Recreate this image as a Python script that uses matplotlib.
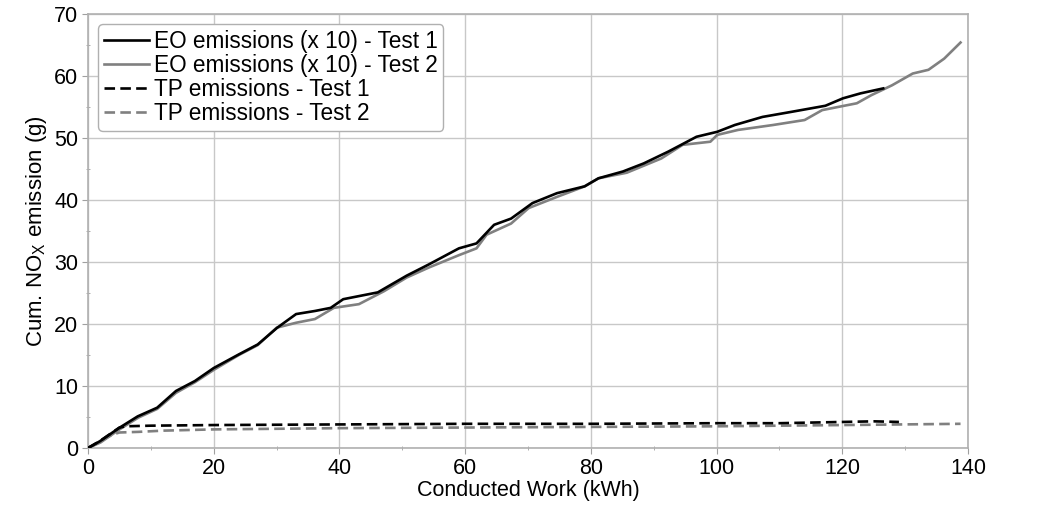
import numpy as np
import matplotlib.pyplot as plt
from matplotlib.ticker import MultipleLocator

plt.rcParams['font.family'] = ['Liberation Sans', 'DejaVu Sans']
plt.rcParams['mathtext.default'] = 'regular'

# EO emissions (x 10), test 1 (black solid)
eo1_x = [0, 1.9, 4.9, 7.9, 11.0, 14.0, 17.0, 20.0, 24.0, 27.0, 30.1, 33.1, 36.1,
         38.6, 40.6, 46.1, 50.7, 54.2, 59.0, 61.8, 64.6, 67.3, 70.7, 74.6, 79.0,
         81.2, 85.1, 88.4, 92.3, 96.8, 100.1, 102.9, 107.3, 111.8, 117.3, 120.1,
         122.9, 126.5]
eo1_y = [0, 1.1, 3.2, 5.1, 6.5, 9.2, 10.8, 12.9, 15.1, 16.7, 19.4, 21.6, 22.1,
         22.6, 24.0, 25.1, 27.8, 29.6, 32.2, 33.0, 36.0, 37.0, 39.5, 41.1, 42.2,
         43.5, 44.6, 45.9, 47.8, 50.2, 51.0, 52.1, 53.4, 54.2, 55.2, 56.4,
         57.2, 58.0]

# EO emissions (x 10), test 2 (grey solid)
eo2_x = [0, 2.0, 5.0, 8.0, 11.0, 14.0, 17.0, 20.0, 24.0, 27.0, 30.0, 33.1, 36.1,
         39.1, 43.1, 47.1, 50.7, 54.2, 59.0, 61.8, 63.4, 67.3, 70.1, 74.6, 79.0,
         81.2, 85.7, 91.2, 94.6, 99.0, 100.1, 103.4, 109.0, 114.0, 116.8, 122.3,
         124.6, 127.9, 131.2, 133.7, 136.2, 138.8]
eo2_y = [0, 0.9, 3.0, 4.9, 6.3, 8.9, 10.6, 12.6, 15.0, 16.6, 19.4, 20.2, 20.8,
         22.6, 23.2, 25.3, 27.5, 29.1, 31.1, 32.2, 34.4, 36.2, 38.7, 40.5, 42.2,
         43.5, 44.4, 46.7, 48.9, 49.4, 50.5, 51.3, 52.1, 52.9, 54.5, 55.6,
         56.9, 58.5, 60.4, 61.0, 62.8, 65.4]

# TP emissions, test 1 (black dashed)
tp1_x = [0, 1, 2, 3, 4, 5, 6, 10, 20, 40, 60, 80, 100, 110, 120, 125, 129]
tp1_y = [0, 0.6, 1.2, 1.9, 2.6, 3.3, 3.5, 3.6, 3.7, 3.8, 3.9, 3.9, 4.0, 4.0, 4.2, 4.3, 4.2]

# TP emissions, test 2 (grey dashed)
tp2_x = [0, 1, 2, 3, 4, 5, 8, 12, 20, 40, 60, 80, 100, 120, 138.8]
tp2_y = [0, 0.5, 1.1, 1.7, 2.2, 2.5, 2.6, 2.8, 3.0, 3.2, 3.3, 3.4, 3.5, 3.7, 3.9]

labels = ["EO emissions (x 10) - Test 1", "EO emissions (x 10) - Test 2",
          "TP emissions - Test 1", "TP emissions - Test 2"]

fig = plt.figure(figsize=(10.58, 5.11), dpi=100)
ax = fig.add_axes([0.0832, 0.1233, 0.8318, 0.8493])

ax.plot(eo1_x, eo1_y, color="black", lw=1.9, label=labels[0], zorder=4)
ax.plot(eo2_x, eo2_y, color="#808080", lw=1.9, label=labels[1], zorder=3)
ax.plot(tp1_x, tp1_y, color="black", lw=1.9, ls=(0, (4, 2)), label=labels[2], zorder=4)
ax.plot(tp2_x, tp2_y, color="#808080", lw=1.9, ls=(0, (4, 2)), label=labels[3], zorder=3)

ax.set_xlim(0, 140)
ax.set_ylim(0, 70)
ax.xaxis.set_major_locator(MultipleLocator(20))
ax.xaxis.set_minor_locator(MultipleLocator(10))
ax.yaxis.set_major_locator(MultipleLocator(10))
ax.yaxis.set_minor_locator(MultipleLocator(5))
ax.grid(True, which="major", color="#c8c8c8", lw=1.0)
ax.tick_params(which="major", length=4, color="#a0a0a0", labelsize=15.5, pad=3)
ax.tick_params(which="minor", length=3, color="#a0a0a0", direction="inout")
for s in ax.spines.values():
    s.set_color("#b0b0b0")
    s.set_linewidth(1.2)

ax.set_xlabel("Conducted Work (kWh)", fontsize=15.5, labelpad=1)
ax.set_ylabel("Cum. NO$_{X}$ emission (g)", fontsize=16, labelpad=4)

leg = ax.legend(loc="upper left", fontsize=16.3, handlelength=2.0,
                handletextpad=0.2, labelspacing=0.05, borderpad=0.25,
                borderaxespad=0.45, frameon=True, fancybox=True, framealpha=1)
leg.get_frame().set_edgecolor("#b0b0b0")

fig.savefig("out.png", dpi=100)
